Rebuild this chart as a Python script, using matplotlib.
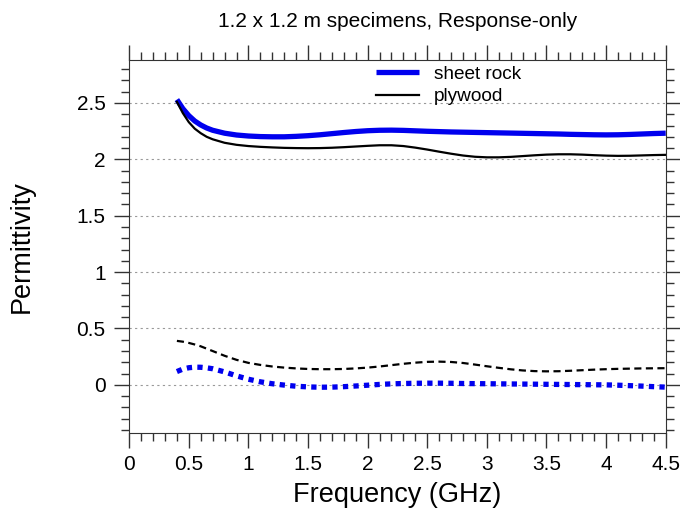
import numpy as np
import matplotlib.pyplot as plt
from matplotlib.ticker import MultipleLocator

plt.rcParams['font.family'] = ['Liberation Sans', 'DejaVu Sans']

# Frequency points (GHz)
freq = [0.4, 0.45, 0.5, 0.55, 0.6, 0.65, 0.7, 0.8, 0.9, 1.0, 1.1, 1.2, 1.3, 1.4, 1.5, 1.6,
        1.7, 1.8, 1.9, 2.0, 2.1, 2.2, 2.3, 2.4, 2.5, 2.6, 2.7, 2.8, 2.9, 3.0, 3.1,
        3.2, 3.3, 3.4, 3.5, 3.6, 3.7, 3.8, 3.9, 4.0, 4.1, 4.2, 4.3, 4.4, 4.5]

# Real part
sheet_rock_re = [2.53, 2.45, 2.388, 2.34, 2.305, 2.278, 2.258, 2.232, 2.216, 2.207, 2.202, 2.20, 2.20, 2.204, 2.21, 2.218,
                 2.228, 2.238, 2.247, 2.254, 2.258, 2.259, 2.257, 2.253, 2.249, 2.246, 2.243, 2.241, 2.239, 2.237, 2.235,
                 2.233, 2.231, 2.229, 2.227, 2.225, 2.222, 2.22, 2.218, 2.217, 2.218, 2.221, 2.225, 2.229, 2.232]
plywood_re = [2.51, 2.41, 2.33, 2.272, 2.232, 2.2, 2.178, 2.147, 2.129, 2.118, 2.111, 2.106, 2.102, 2.10, 2.099, 2.10,
              2.103, 2.108, 2.114, 2.12, 2.125, 2.125, 2.118, 2.104, 2.087, 2.068, 2.05, 2.034, 2.023, 2.018, 2.018,
              2.022, 2.029, 2.036, 2.042, 2.045, 2.045, 2.042, 2.037, 2.033, 2.031, 2.032, 2.035, 2.038, 2.04]

# Imaginary part
sheet_rock_im = [0.118, 0.14, 0.152, 0.157, 0.156, 0.151, 0.143, 0.115, 0.08, 0.05, 0.027, 0.01, -0.002, -0.012, -0.018,
                 -0.021, -0.02, -0.016, -0.01, -0.003, 0.004, 0.009, 0.012, 0.014, 0.015, 0.015, 0.014, 0.012, 0.011,
                 0.01, 0.009, 0.008, 0.007, 0.006, 0.005, 0.004, 0.003, 0.002, 0.001, 0.0, -0.003, -0.007, -0.011,
                 -0.016, -0.02]
plywood_im = [0.39, 0.383, 0.372, 0.358, 0.342, 0.321, 0.30, 0.258, 0.222, 0.195, 0.177, 0.163, 0.153, 0.146, 0.141,
              0.139, 0.139, 0.141, 0.146, 0.153, 0.163, 0.175, 0.187, 0.197, 0.204, 0.206, 0.203, 0.194, 0.18, 0.165,
              0.151, 0.138, 0.128, 0.122, 0.12, 0.121, 0.125, 0.13, 0.135, 0.139, 0.142, 0.144, 0.146, 0.147, 0.148]

fig = plt.figure(figsize=(6.8, 5.14), dpi=100)
ax = fig.add_axes([0.19, 0.158, 0.789, 0.725])

ax.plot(freq, sheet_rock_re, color='#0000ee', lw=3.8, label='sheet rock', solid_capstyle='butt')
ax.plot(freq, plywood_re, color='black', lw=1.6, label='plywood')
ax.plot(freq, sheet_rock_im, color='#0000ee', lw=3.8, linestyle=(0, (1, 1)))
ax.plot(freq, plywood_im, color='black', lw=1.6, linestyle=(0, (3.2, 2)))

ax.set_xlim(0, 4.5)
ax.set_ylim(-0.425, 2.88)
ax.xaxis.set_minor_locator(MultipleLocator(0.1))
ax.yaxis.set_minor_locator(MultipleLocator(0.1))
ax.set_xticks(np.arange(0, 4.51, 0.5))
ax.set_xticklabels(['0', '0.5', '1', '1.5', '2', '2.5', '3', '3.5', '4', '4.5'])
ax.set_yticks([0, 0.5, 1, 1.5, 2, 2.5])
ax.set_yticklabels(['0', '0.5', '1', '1.5', '2', '2.5'])

ax.tick_params(which='both', direction='out', top=True, right=True, labelsize=15, colors='#333333',
               labelcolor='black')
ax.tick_params(which='major', length=11, width=1)
ax.tick_params(which='minor', length=6, width=1)
ax.tick_params(axis='y', pad=6)
ax.tick_params(axis='x', pad=5)
for s in ax.spines.values():
    s.set_color('#333333')

ax.grid(axis='y', which='major', linestyle=(0, (2, 3)), color='#999999', lw=0.8)

ax.set_title('1.2 x 1.2 m specimens, Response-only', fontsize=15, pad=24)
ax.set_xlabel('Frequency (GHz)', fontsize=19.5, labelpad=6)
ax.set_ylabel('Permittivity', fontsize=19.5, labelpad=30)

ax.legend(loc='upper left', bbox_to_anchor=(0.456, 0.99), frameon=False, fontsize=13.7,
          handlelength=2.26, labelspacing=0.25, handletextpad=0.79, borderpad=0.1, borderaxespad=0)

fig.savefig('out.png', dpi=100)
